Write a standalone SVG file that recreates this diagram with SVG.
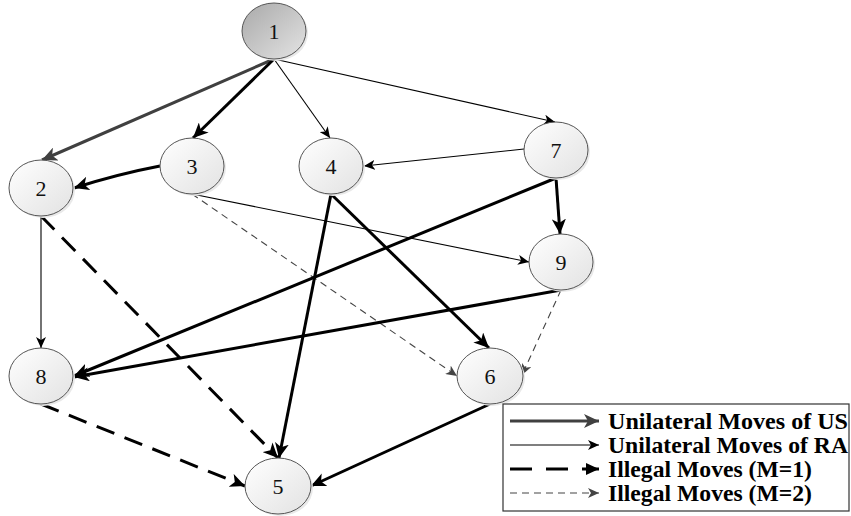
<svg xmlns="http://www.w3.org/2000/svg" width="851" height="516" viewBox="0 0 851 516">
<defs>
<linearGradient id="gNode" x1="0" y1="0" x2="1" y2="1">
<stop offset="0" stop-color="#ffffff"/>
<stop offset="1" stop-color="#e2e2e2"/>
</linearGradient>
<linearGradient id="gRoot" x1="0" y1="0" x2="1" y2="1">
<stop offset="0" stop-color="#a9a9a9"/>
<stop offset="1" stop-color="#e4e4e4"/>
</linearGradient>
<marker id="aThick" markerUnits="userSpaceOnUse" markerWidth="16" markerHeight="14" refX="15" refY="7" orient="auto">
<path d="M0,0 L15,7 L0,14 L4,7 Z" fill="#000"/>
</marker>
<marker id="aGray" markerUnits="userSpaceOnUse" markerWidth="16" markerHeight="14" refX="15" refY="7" orient="auto">
<path d="M0,0 L15,7 L0,14 L4,7 Z" fill="#404040"/>
</marker>
<marker id="aThin" markerUnits="userSpaceOnUse" markerWidth="12" markerHeight="10" refX="11" refY="5" orient="auto">
<path d="M0,0 L11,5 L0,10 L3,5 Z" fill="#000"/>
</marker>
<marker id="aDash2" markerUnits="userSpaceOnUse" markerWidth="12" markerHeight="10" refX="11" refY="5" orient="auto">
<path d="M0,0 L11,5 L0,10 L3,5 Z" fill="#444"/>
</marker>
<marker id="aLeg1" markerUnits="userSpaceOnUse" markerWidth="14" markerHeight="12" refX="13" refY="6" orient="auto">
<path d="M0,0 L13,6 L0,12 Z" fill="#000"/>
</marker>
</defs>
<style>
.node ellipse.b{fill:url(#gNode);stroke:#555;stroke-width:1}
.node ellipse.s{fill:#e9e9e9;stroke:none}
.node text{font-family:"Liberation Serif","Times New Roman",serif;font-size:22px;fill:#111;text-anchor:middle;dominant-baseline:central}
.thick{stroke:#000;stroke-width:3;fill:none;marker-end:url(#aThick)}
.gray{stroke:#404040;stroke-width:3;fill:none;marker-end:url(#aGray)}
.thin{stroke:#000;stroke-width:1.1;fill:none;marker-end:url(#aThin)}
.dash1{stroke:#000;stroke-width:3;fill:none;stroke-dasharray:19 11;marker-end:url(#aThick)}
.dash2{stroke:#444;stroke-width:1.1;fill:none;stroke-dasharray:7 5;marker-end:url(#aDash2)}
.leg{font-family:"Liberation Serif","Times New Roman",serif;font-size:23px;font-weight:bold;fill:#000}
</style>
<rect width="851" height="516" fill="#fff"/>

<g id="connectors">
<line class="gray" x1="274" y1="59" x2="42" y2="160"/>
<line class="thick" x1="274" y1="59" x2="193" y2="138"/>
<line class="thin" x1="274" y1="59" x2="330" y2="138"/>
<line class="thin" x1="274" y1="59" x2="555" y2="122"/>
<line class="thin" x1="524" y1="149" x2="364" y2="166"/>
<path class="thick" d="M160,166 Q118,174 74,188"/>
<line class="thin" x1="192" y1="194" x2="529" y2="262"/>
<line class="dash2" x1="192" y1="194" x2="457" y2="376"/>
<line class="thick" x1="331" y1="194" x2="279" y2="458"/>
<line class="thick" x1="331" y1="194" x2="489" y2="348"/>
<line class="thick" x1="556" y1="178" x2="560" y2="234"/>
<line class="thick" x1="556" y1="178" x2="74" y2="376"/>
<line class="thick" x1="561" y1="290" x2="74" y2="377"/>
<line class="dash2" x1="561" y1="290" x2="522" y2="375"/>
<line class="thin" x1="41" y1="216" x2="41" y2="348"/>
<line class="dash1" x1="41" y1="216" x2="278" y2="458"/>
<line class="dash1" x1="41" y1="404" x2="245" y2="486"/>
<line class="thick" x1="490" y1="404" x2="311" y2="486"/>
</g>

<g id="n1" class="node"><ellipse class="s" cx="276" cy="33" rx="32" ry="28"/><ellipse cx="274" cy="31" rx="32" ry="28" fill="url(#gRoot)" stroke="#555" stroke-width="1"/><text x="274" y="31">1</text></g>
<g id="n2" class="node"><ellipse class="s" cx="43" cy="190" rx="32" ry="28"/><ellipse class="b" cx="41" cy="188" rx="32" ry="28"/><text x="41" y="188">2</text></g>
<g id="n3" class="node"><ellipse class="s" cx="194" cy="168" rx="32" ry="28"/><ellipse class="b" cx="192" cy="166" rx="32" ry="28"/><text x="192" y="166">3</text></g>
<g id="n4" class="node"><ellipse class="s" cx="333" cy="168" rx="32" ry="28"/><ellipse class="b" cx="331" cy="166" rx="32" ry="28"/><text x="331" y="166">4</text></g>
<g id="n5" class="node"><ellipse class="s" cx="280" cy="488" rx="33" ry="28"/><ellipse class="b" cx="278" cy="486" rx="33" ry="28"/><text x="278" y="486">5</text></g>
<g id="n6" class="node"><ellipse class="s" cx="492" cy="378" rx="33" ry="28"/><ellipse class="b" cx="490" cy="376" rx="33" ry="28"/><text x="490" y="376">6</text></g>
<g id="n7" class="node"><ellipse class="s" cx="558" cy="152" rx="32" ry="28"/><ellipse class="b" cx="556" cy="150" rx="32" ry="28"/><text x="556" y="150">7</text></g>
<g id="n8" class="node"><ellipse class="s" cx="43" cy="378" rx="32" ry="28"/><ellipse class="b" cx="41" cy="376" rx="32" ry="28"/><text x="41" y="376">8</text></g>
<g id="n9" class="node"><ellipse class="s" cx="563" cy="264" rx="32" ry="28"/><ellipse class="b" cx="561" cy="262" rx="32" ry="28"/><text x="561" y="262">9</text></g>

<g id="legend">
<rect x="503" y="404" width="346" height="107" fill="#fff" stroke="#333" stroke-width="1.2"/>
<line class="gray" x1="510" y1="421" x2="599" y2="421"/>
<line class="thin" x1="510" y1="445" x2="599" y2="445"/>
<line x1="510" y1="469" x2="599" y2="469" stroke="#000" stroke-width="3" stroke-dasharray="22 14" marker-end="url(#aLeg1)"/>
<line class="dash2" x1="510" y1="493" x2="599" y2="493"/>
<text class="leg" x="608" y="429" textLength="240" lengthAdjust="spacingAndGlyphs">Unilateral Moves of US</text>
<text class="leg" x="608" y="453" textLength="240" lengthAdjust="spacingAndGlyphs">Unilateral Moves of RA</text>
<text class="leg" x="608" y="477" textLength="204" lengthAdjust="spacingAndGlyphs">Illegal Moves (M=1)</text>
<text class="leg" x="608" y="501" textLength="204" lengthAdjust="spacingAndGlyphs">Illegal Moves (M=2)</text>
</g>
</svg>
